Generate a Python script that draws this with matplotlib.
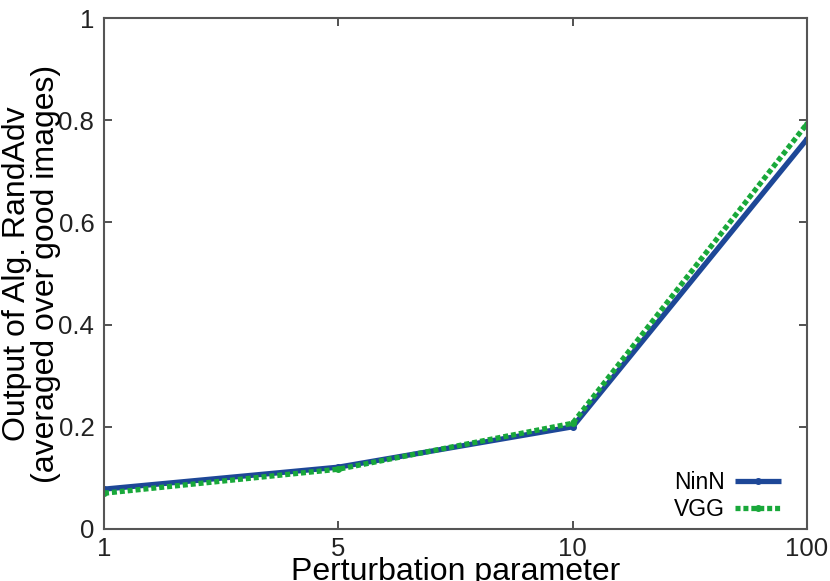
import matplotlib
matplotlib.use("Agg")
import matplotlib.pyplot as plt

categories = ["1", "5", "10", "100"]
ninn = [0.078, 0.121, 0.200, 0.763]
vgg = [0.070, 0.117, 0.207, 0.793]
yticks = [0, 0.2, 0.4, 0.6, 0.8, 1]
yticklabels = ["0", "0.2", "0.4", "0.6", "0.8", "1"]

plt.rcParams['font.family'] = ['Liberation Sans', 'DejaVu Sans']

fig = plt.figure(figsize=(8.3, 5.81), dpi=100)
ax = fig.add_axes([104/830, 1-529/581, (807-104)/830, (529-18)/581])

x = list(range(len(categories)))
ax.plot(x, ninn, color="#1d4797", lw=3.8, marker="o", ms=4, label="NinN", solid_capstyle="butt")
ax.plot(x, vgg, color="#19a83a", lw=3.8, ls=(0, (0.95, 0.55)), marker="o", ms=4, label="VGG")

ax.set_xlim(0, 3)
ax.set_ylim(0, 1)
ax.set_xticks(x)
ax.set_xticklabels(categories)
ax.set_yticks(yticks)
ax.set_yticklabels(yticklabels)
ax.tick_params(direction="in", length=6, width=1.2, labelsize=18.5, colors="#333333",
               labelcolor="#222222", top=True, right=True, pad=7)
ax.tick_params(axis="x", pad=6)
for s in ax.spines.values():
    s.set_linewidth(1.5)
    s.set_color("#555555")

ax.set_xlabel("Perturbation parameter", fontsize=23, labelpad=-3)
ax.set_ylabel("Output of Alg. RandAdv\n(averaged over good images)", fontsize=23,
              labelpad=-2, linespacing=0.95)

leg = ax.legend(loc="lower right", frameon=False, fontsize=16.5, markerfirst=False,
                handlelength=2.0, handletextpad=0.45, borderaxespad=0.2, labelspacing=0.2,
                bbox_to_anchor=(0.982, -0.012))

fig.savefig("out.png", dpi=100)
